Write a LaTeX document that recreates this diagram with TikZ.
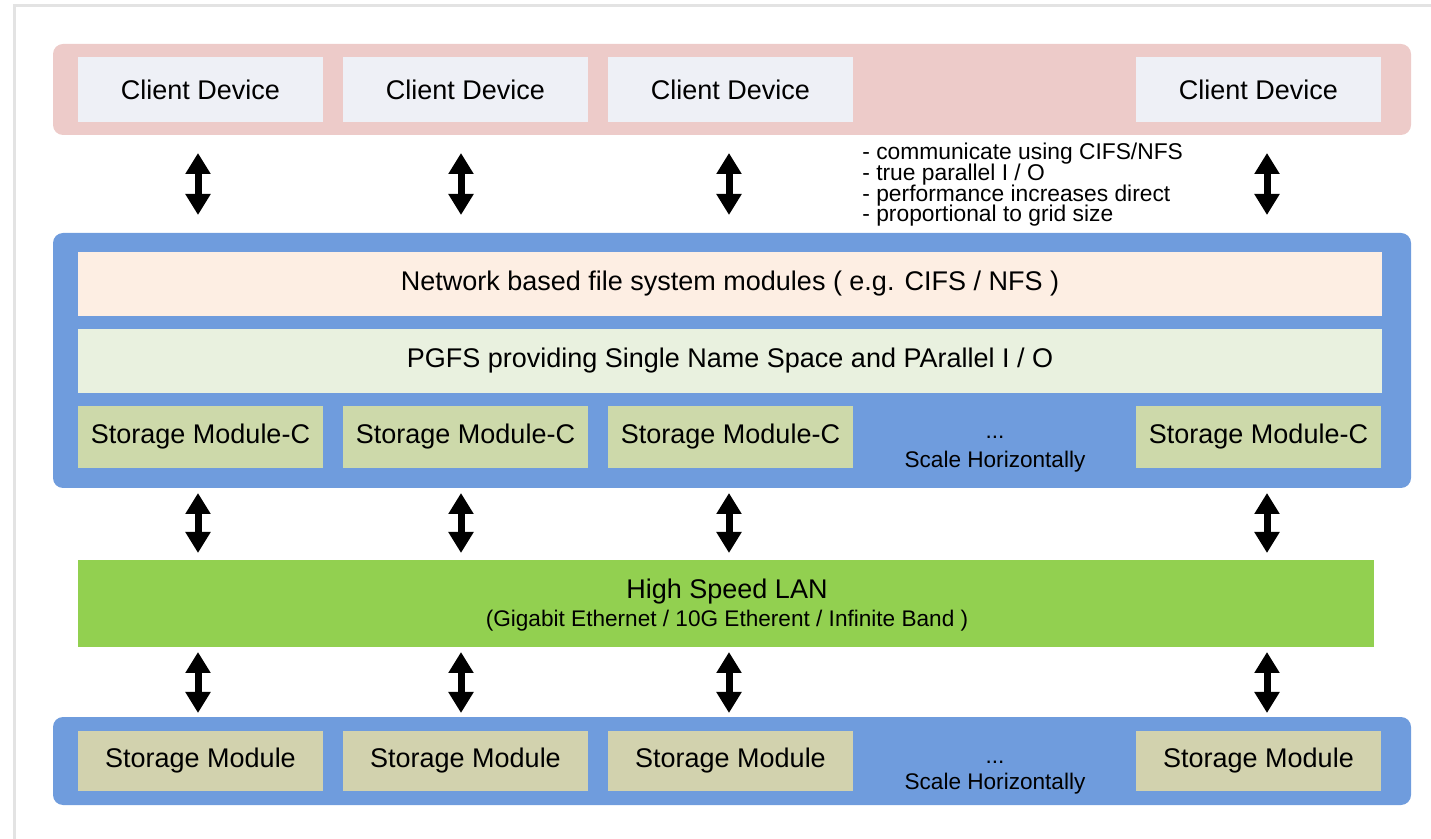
\documentclass[tikz,border=0pt]{standalone}
\usepackage{fontspec}
\setmainfont{Liberation Sans}
\usetikzlibrary{arrows.meta}
\definecolor{framegray}{HTML}{E3E3E3}
\definecolor{clientband}{HTML}{EDCBC9}
\definecolor{clientfill}{HTML}{EEF0F6}
\definecolor{blueband}{HTML}{6F9CDD}
\definecolor{nfsfill}{HTML}{FDEEE3}
\definecolor{pgfsfill}{HTML}{E9F1DF}
\definecolor{smcfill}{HTML}{CDD9AA}
\definecolor{lanfill}{HTML}{92D050}
\definecolor{smfill}{HTML}{D2D2AE}
\lineskiplimit=-20pt
\begin{document}
\begin{tikzpicture}[x=0.5pt, y=-0.5pt,
    band/.style={rounded corners=5pt, inner sep=0pt, outer sep=0pt, minimum width=679pt},
    box/.style={inner sep=0pt, outer sep=0pt, minimum width=122.5pt, font=\fontsize{13.5}{16}\selectfont},
    layer/.style={inner sep=0pt, outer sep=0pt, minimum width=652pt, minimum height=32pt, font=\fontsize{13.5}{16}\selectfont},
    small/.style={inner sep=0pt, font=\fontsize{11.3}{13}\selectfont},
    updown/.style={{Triangle[width=12pt,length=10.5pt]}-{Triangle[width=12pt,length=10.5pt]}, line width=3.5pt}]
    \useasboundingbox (0,0) rectangle (1431,839);
    \draw[framegray, line width=1.5pt] (14,839) -- (14,6) -- (1431,6);

    % clients
    \node[band, fill=clientband, minimum height=45.5pt] (clients) at (732,89.5) {};
    \node[box, fill=clientfill, minimum height=32.5pt] (cd1) at (200.5,89.5) {Client Device};
    \node[box, fill=clientfill, minimum height=32.5pt] (cd2) at (465.5,89.5) {Client Device};
    \node[box, fill=clientfill, minimum height=32.5pt] (cd3) at (730.5,89.5) {Client Device};
    \node[box, fill=clientfill, minimum height=32.5pt] (cd4) at (1258.5,89.5) {Client Device};
    \node[align=left, anchor=north west, inner sep=0pt,
          font=\fontsize{11.4}{10.4}\selectfont] (notes) at (862,142.5)
        {- communicate using CIFS/NFS\\- true parallel I / O\\- performance increases direct\\- proportional to grid size};

    % controller modules
    \node[band, fill=blueband, minimum height=127.5pt] (ctrl) at (732,360.5) {};
    \node[layer, fill=nfsfill] (nfs) at (730,284) {Network based file system modules ( e.g. CIFS / NFS )};
    \node[layer, fill=pgfsfill] (pgfs) at (730,361) {PGFS providing Single Name Space and PArallel I / O};
    \node[box, fill=smcfill, minimum height=31pt] (smc1) at (200.5,437) {Storage Module-C};
    \node[box, fill=smcfill, minimum height=31pt] (smc2) at (465.5,437) {Storage Module-C};
    \node[box, fill=smcfill, minimum height=31pt] (smc3) at (730.5,437) {Storage Module-C};
    \node[box, fill=smcfill, minimum height=31pt] (smc4) at (1258.5,437) {Storage Module-C};
    \node[small, anchor=base] (dotsc) at (995,439) {...};
    \node[small, anchor=base] (scalec) at (995,468) {Scale Horizontally};

    % network
    \node[inner sep=0pt, outer sep=0pt, fill=lanfill, minimum width=648pt, minimum height=43.5pt] (lan) at (726,603.5) {};
    \node[anchor=base, inner sep=0pt, font=\fontsize{13.5}{16}\selectfont] (lantitle) at (727,599) {High Speed LAN};
    \node[small, anchor=base] (lantypes) at (727,627) {(Gigabit Ethernet / 10G Etherent / Infinite Band )};

    % storage
    \node[band, fill=blueband, minimum height=44pt] (store) at (732,761) {};
    \node[box, fill=smfill, minimum height=30pt] (sm1) at (200.5,761) {Storage Module};
    \node[box, fill=smfill, minimum height=30pt] (sm2) at (465.5,761) {Storage Module};
    \node[box, fill=smfill, minimum height=30pt] (sm3) at (730.5,761) {Storage Module};
    \node[box, fill=smfill, minimum height=30pt] (sm4) at (1258.5,761) {Storage Module};
    \node[small, anchor=base] (dotss) at (995,763) {...};
    \node[small, anchor=base] (scales) at (995,789) {Scale Horizontally};

    % arrows
    \coordinate (col1) at (198,0);
    \coordinate (col2) at (461,0);
    \coordinate (col3) at (729,0);
    \coordinate (col4) at (1267,0);
    \draw[updown, shorten <=9pt, shorten >=9pt] (col1 |- clients.south) -- (col1 |- ctrl.north);
    \draw[updown, shorten <=9pt, shorten >=9pt] (col2 |- clients.south) -- (col2 |- ctrl.north);
    \draw[updown, shorten <=9pt, shorten >=9pt] (col3 |- clients.south) -- (col3 |- ctrl.north);
    \draw[updown, shorten <=9pt, shorten >=9pt] (col4 |- clients.south) -- (col4 |- ctrl.north);
    \draw[updown, shorten <=2.5pt, shorten >=3.5pt] (col1 |- ctrl.south) -- (col1 |- lan.north);
    \draw[updown, shorten <=2.5pt, shorten >=3.5pt] (col2 |- ctrl.south) -- (col2 |- lan.north);
    \draw[updown, shorten <=2.5pt, shorten >=3.5pt] (col3 |- ctrl.south) -- (col3 |- lan.north);
    \draw[updown, shorten <=2.5pt, shorten >=3.5pt] (col4 |- ctrl.south) -- (col4 |- lan.north);
    \draw[updown, shorten <=2.5pt, shorten >=2pt] (col1 |- lan.south) -- (col1 |- store.north);
    \draw[updown, shorten <=2.5pt, shorten >=2pt] (col2 |- lan.south) -- (col2 |- store.north);
    \draw[updown, shorten <=2.5pt, shorten >=2pt] (col3 |- lan.south) -- (col3 |- store.north);
    \draw[updown, shorten <=2.5pt, shorten >=2pt] (col4 |- lan.south) -- (col4 |- store.north);
\end{tikzpicture}
\end{document}
